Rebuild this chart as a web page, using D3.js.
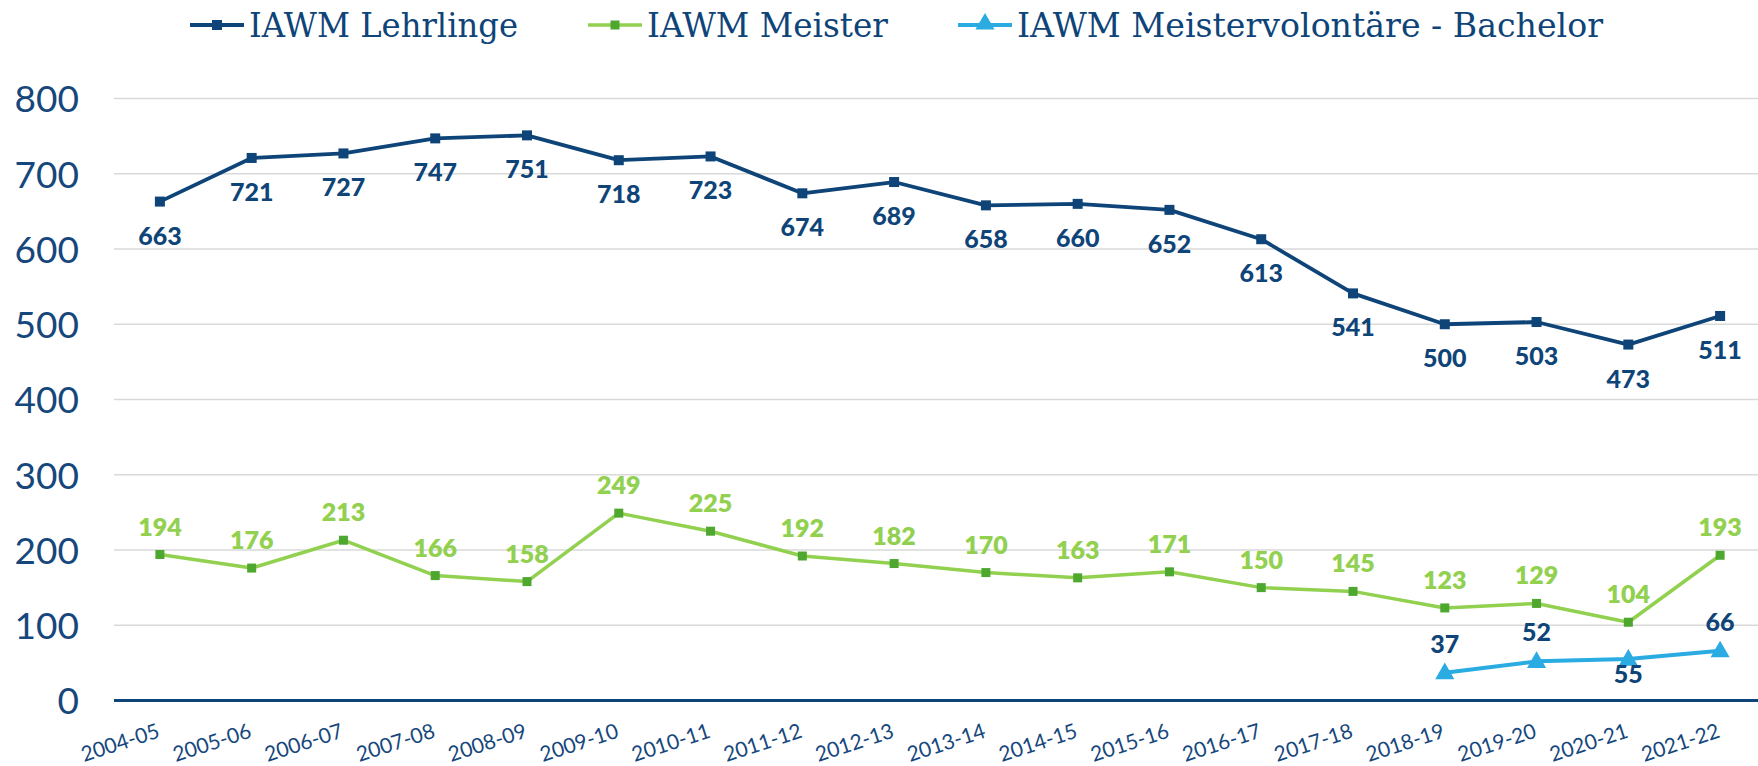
<!DOCTYPE html>
<html>
<head>
<meta charset="utf-8">
<script src="https://cdn.jsdelivr.net/npm/d3@7"></script>
<style>
  body { margin: 0; background: #fff; }
  svg { display: block; }
</style>
</head>
<body>
<div id="chart"></div>
<script>
// Chart data
const years = ['2004-05', '2005-06', '2006-07', '2007-08', '2008-09', '2009-10', '2010-11',
  '2011-12', '2012-13', '2013-14', '2014-15', '2015-16', '2016-17', '2017-18', '2018-19',
  '2019-20', '2020-21', '2021-22']
const lehrlinge = [663, 721, 727, 747, 751, 718, 723, 674, 689, 658, 660, 652, 613, 541, 500, 503, 473, 511]
const meister = [194, 176, 213, 166, 158, 249, 225, 192, 182, 170, 163, 171, 150, 145, 123, 129, 104, 193]
const bachelor = [null, null, null, null, null, null, null, null, null, null, null, null, null, null, 37, 52, 55, 66]
const seriesNames = ['IAWM Lehrlinge', 'IAWM Meister', 'IAWM Meistervolontäre - Bachelor']
const yTicks = [0, 100, 200, 300, 400, 500, 600, 700, 800]

const W = 1758, H = 766
const navy = '#0e4478', textBlue = '#16477c'

let svg = d3.select('#chart').append('svg')
    .attr('width', W)
    .attr('height', H)

// Scales
let x = d3.scalePoint()
    .domain(years)
    .range([114, 1766])
    .padding(0.5)
let y = d3.scaleLinear()
    .domain([0, 800])
    .range([700.5, 98.5])

// Gridlines
svg.append('g')
  .selectAll('line')
  .data(yTicks.filter(d => d > 0))
  .join('line')
  .attr('x1', 114)
  .attr('x2', W)
  .attr('y1', d => y(d))
  .attr('y2', d => y(d))
  .attr('stroke', '#d9d9d9')
  .attr('stroke-width', 1.3)

// Y axis labels
let yAxis = d3.axisLeft(y).tickValues(yTicks).tickSize(0).tickPadding(0)
svg.append('g')
  .attr('transform', 'translate(79,0)')
  .call(yAxis)
  .call(g => g.select('.domain').remove())
  .selectAll('text')
  .attr('font-family', 'Lato, sans-serif')
  .attr('font-size', 37)
  .attr('fill', textBlue)
  .attr('dy', '0.36em')

// Zero line
svg.append('line')
  .attr('x1', 114).attr('x2', W)
  .attr('y1', y(0)).attr('y2', y(0))
  .attr('stroke', navy)
  .attr('stroke-width', 3)

// X labels
svg.append('g')
  .selectAll('text')
  .data(years)
  .join('text')
  .attr('transform', d => 'translate(' + (x(d) + 1) + ',737) rotate(-18)')
  .attr('text-anchor', 'end')
  .attr('font-family', 'Lato, sans-serif')
  .attr('font-size', 21)
  .attr('fill', textBlue)
  .text(d => d)

// Lines
let line = d3.line()
    .defined(d => d.v != null)
    .x(d => x(d.k))
    .y(d => y(d.v))

const series = [
  { vals: lehrlinge, color: navy, marker: navy, shape: 'square', size: 10, width: 3.8 },
  { vals: meister, color: '#92d050', marker: '#4ea72e', shape: 'square', size: 9, width: 3.5 },
  { vals: bachelor, color: '#2aabe2', marker: '#2aabe2', shape: 'triangle', size: 17, width: 4 }
]

series.forEach(s => {
  let pts = s.vals.map((v, i) => ({ k: years[i], v: v }))
  svg.append('path')
    .datum(pts)
    .attr('d', line)
    .attr('fill', 'none')
    .attr('stroke', s.color)
    .attr('stroke-width', s.width)
    .attr('stroke-linejoin', 'round')

  let valid = pts.filter(d => d.v != null)
  if (s.shape === 'square') {
    svg.append('g').selectAll('rect')
      .data(valid)
      .join('rect')
      .attr('x', d => x(d.k) - s.size / 2)
      .attr('y', d => y(d.v) - s.size / 2)
      .attr('width', s.size)
      .attr('height', s.size)
      .attr('fill', s.marker)
  } else {
    let tri = d3.symbol().type(d3.symbolTriangle).size(s.size * s.size * 0.55)
    svg.append('g').selectAll('path')
      .data(valid)
      .join('path')
      .attr('d', tri)
      .attr('transform', d => 'translate(' + x(d.k) + ',' + (y(d.v) + 1) + ')')
      .attr('fill', s.marker)
  }
})

// Data labels
svg.append('g').selectAll('text')
  .data(lehrlinge)
  .join('text')
  .attr('x', (d, i) => x(years[i]))
  .attr('y', d => y(d) + 43)
  .attr('text-anchor', 'middle')
  .attr('font-family', 'Lato, sans-serif')
  .attr('font-weight', 900)
  .attr('font-size', 25)
  .attr('fill', navy)
  .text(d => d)

svg.append('g').selectAll('text')
  .data(meister)
  .join('text')
  .attr('x', (d, i) => x(years[i]))
  .attr('y', d => y(d) - 19)
  .attr('text-anchor', 'middle')
  .attr('font-family', 'Lato, sans-serif')
  .attr('font-weight', 800)
  .attr('font-size', 25)
  .attr('fill', '#92d050')
  .text(d => d)

// the 2020-21 label sits on its marker in the original
svg.append('g').selectAll('text')
  .data(bachelor.map((v, i) => ({ k: years[i], v: v, i: i })).filter(d => d.v != null))
  .join('text')
  .attr('x', d => x(d.k))
  .attr('y', d => d.i === 16 ? y(d.v) + 24 : y(d.v) - 20)
  .attr('text-anchor', 'middle')
  .attr('font-family', 'Lato, sans-serif')
  .attr('font-weight', 900)
  .attr('font-size', 25)
  .attr('fill', navy)
  .text(d => d.v)

// Legend
const legendX = [190, 588, 958]
const legendW = [269, 241, 586]
let legend = svg.append('g').attr('transform', 'translate(0,25)')
series.forEach((s, i) => {
  let g = legend.append('g').attr('transform', 'translate(' + legendX[i] + ',0)')
  g.append('line')
    .attr('x1', 0).attr('x2', 54)
    .attr('stroke', s.color)
    .attr('stroke-width', s.width)
  if (s.shape === 'square') {
    g.append('rect')
      .attr('x', 27 - s.size / 2).attr('y', -s.size / 2)
      .attr('width', s.size).attr('height', s.size)
      .attr('fill', s.marker)
  } else {
    g.append('path')
      .attr('d', d3.symbol().type(d3.symbolTriangle).size(s.size * s.size * 0.55))
      .attr('transform', 'translate(27,-1)')
      .attr('fill', s.marker)
  }
  g.append('text')
    .attr('x', 59)
    .attr('y', 12)
    .attr('font-family', '"DejaVu Serif", serif')
    .attr('font-size', 34)
    .attr('fill', navy)
    .attr('textLength', legendW[i])
    .attr('lengthAdjust', 'spacingAndGlyphs')
    .text(seriesNames[i])
})
</script>
</body>
</html>
